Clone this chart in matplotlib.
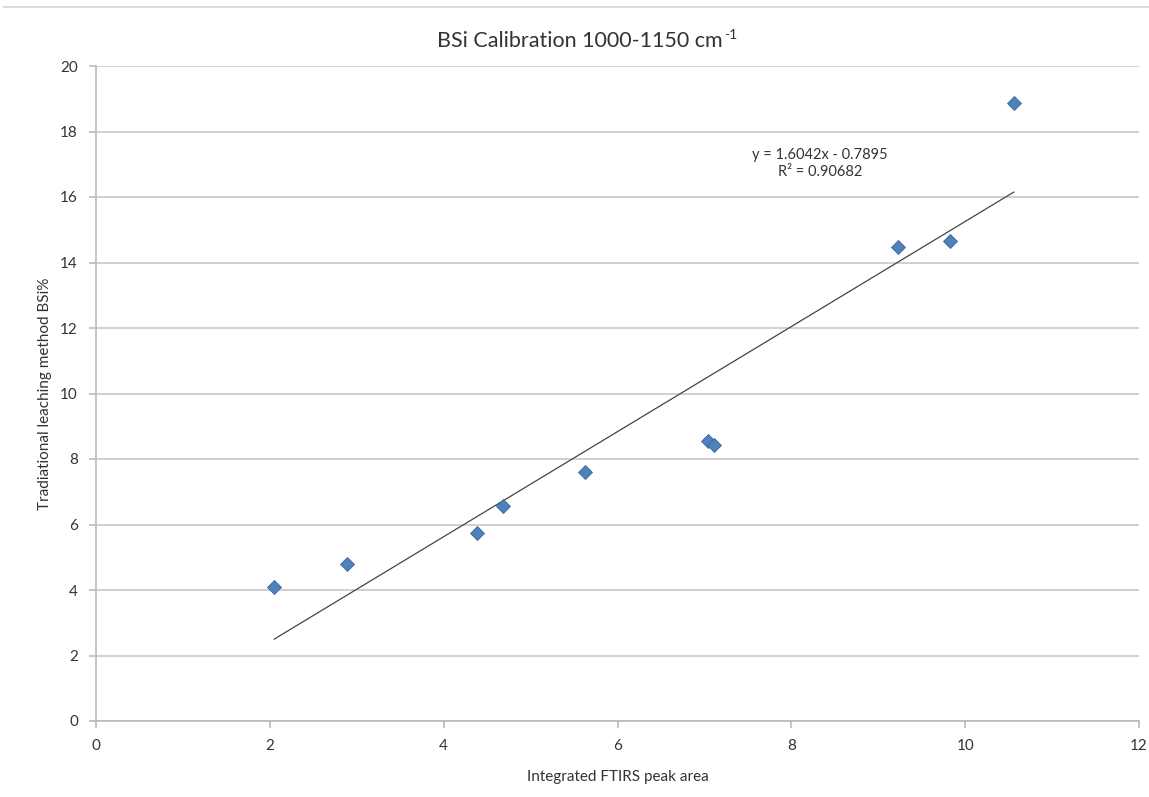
import matplotlib
matplotlib.use("Agg")
import matplotlib.pyplot as plt
from matplotlib.lines import Line2D
import numpy as np

# Calibration samples: integrated FTIRS peak area vs. leaching-method BSi%
peak_area = [2.05, 2.89, 4.38, 4.68, 5.63, 7.04, 7.11, 9.23, 9.82, 10.56]
bsi_pct = [4.09, 4.79, 5.74, 6.56, 7.60, 8.55, 8.43, 14.47, 14.66, 18.87]

# Linear trendline reported for the fit
slope = 1.6042
intercept = -0.7895
r_squared = 0.90682

x_ticks = [0, 2, 4, 6, 8, 10, 12]
y_ticks = [0, 2, 4, 6, 8, 10, 12, 14, 16, 18, 20]

plt.rcParams['font.family'] = ['Lato', 'DejaVu Sans']

fig = plt.figure(figsize=(11.49, 7.97), dpi=100)
ax = fig.add_axes([96 / 1149, 1 - 721 / 797, (1139 - 96) / 1149, (721 - 66) / 797])

grid_c = '#c4c4c4'
text_c = '#333333'

ax.set_xlim(0, 12)
ax.set_ylim(0, 20)
ax.set_xticks(x_ticks)
ax.set_yticks(y_ticks)
ax.yaxis.grid(True, color=grid_c, linewidth=1.1)
ax.set_axisbelow(True)
for side in ('top', 'right'):
    ax.spines[side].set_visible(False)
for side in ('left', 'bottom'):
    ax.spines[side].set_color('#b5b5b5')
    ax.spines[side].set_linewidth(1.1)
ax.tick_params(axis='both', direction='out', length=5, width=1.1, color='#b5b5b5',
               labelsize=11, labelcolor=text_c)
ax.tick_params(axis='y', pad=8)
ax.tick_params(axis='x', pad=8)

# Trendline across the sample range
xs = np.array([min(peak_area), max(peak_area)])
ax.plot(xs, slope * xs + intercept, color='#444444', linewidth=0.9, zorder=2)

ax.plot(peak_area, bsi_pct, linestyle='none', marker='D', markersize=6.8,
        markerfacecolor='#4f81bd', markeredgecolor='#3a659a', markeredgewidth=0.6, zorder=3)

ax.text(8.33, 17.03, f"y = {slope}x - {abs(intercept)}\nR² = {r_squared}",
        ha='center', va='center', multialignment='center', fontsize=10.5,
        color=text_c, linespacing=1.25)

ax.set_xlabel('Integrated FTIRS peak area', fontsize=11, color=text_c, labelpad=12)
ax.set_ylabel('Tradiational leaching method BSi%', fontsize=11, color=text_c, labelpad=6)

title = fig.text(580 / 1149, 1 - 41 / 797, 'BSi Calibration 1000-1150 cm',
                 ha='center', va='center', fontsize=15.5, color=text_c)
# superscript exponent placed just after the title text
fig.texts.append(plt.Annotation('-1', xy=(1.0, 0.78), xycoords=title,
                                xytext=(1, 0), textcoords='offset points',
                                ha='left', va='center', fontsize=10, color=text_c))
fig.texts[-1].set_figure(fig)

# thin frame rule along the top edge
fig.add_artist(Line2D([4 / 1149, 1.0], [1 - 7 / 797, 1 - 7 / 797],
                      transform=fig.transFigure, color='#d4d4d4', linewidth=1.2))

fig.savefig('out.png', dpi=100, facecolor='white')
